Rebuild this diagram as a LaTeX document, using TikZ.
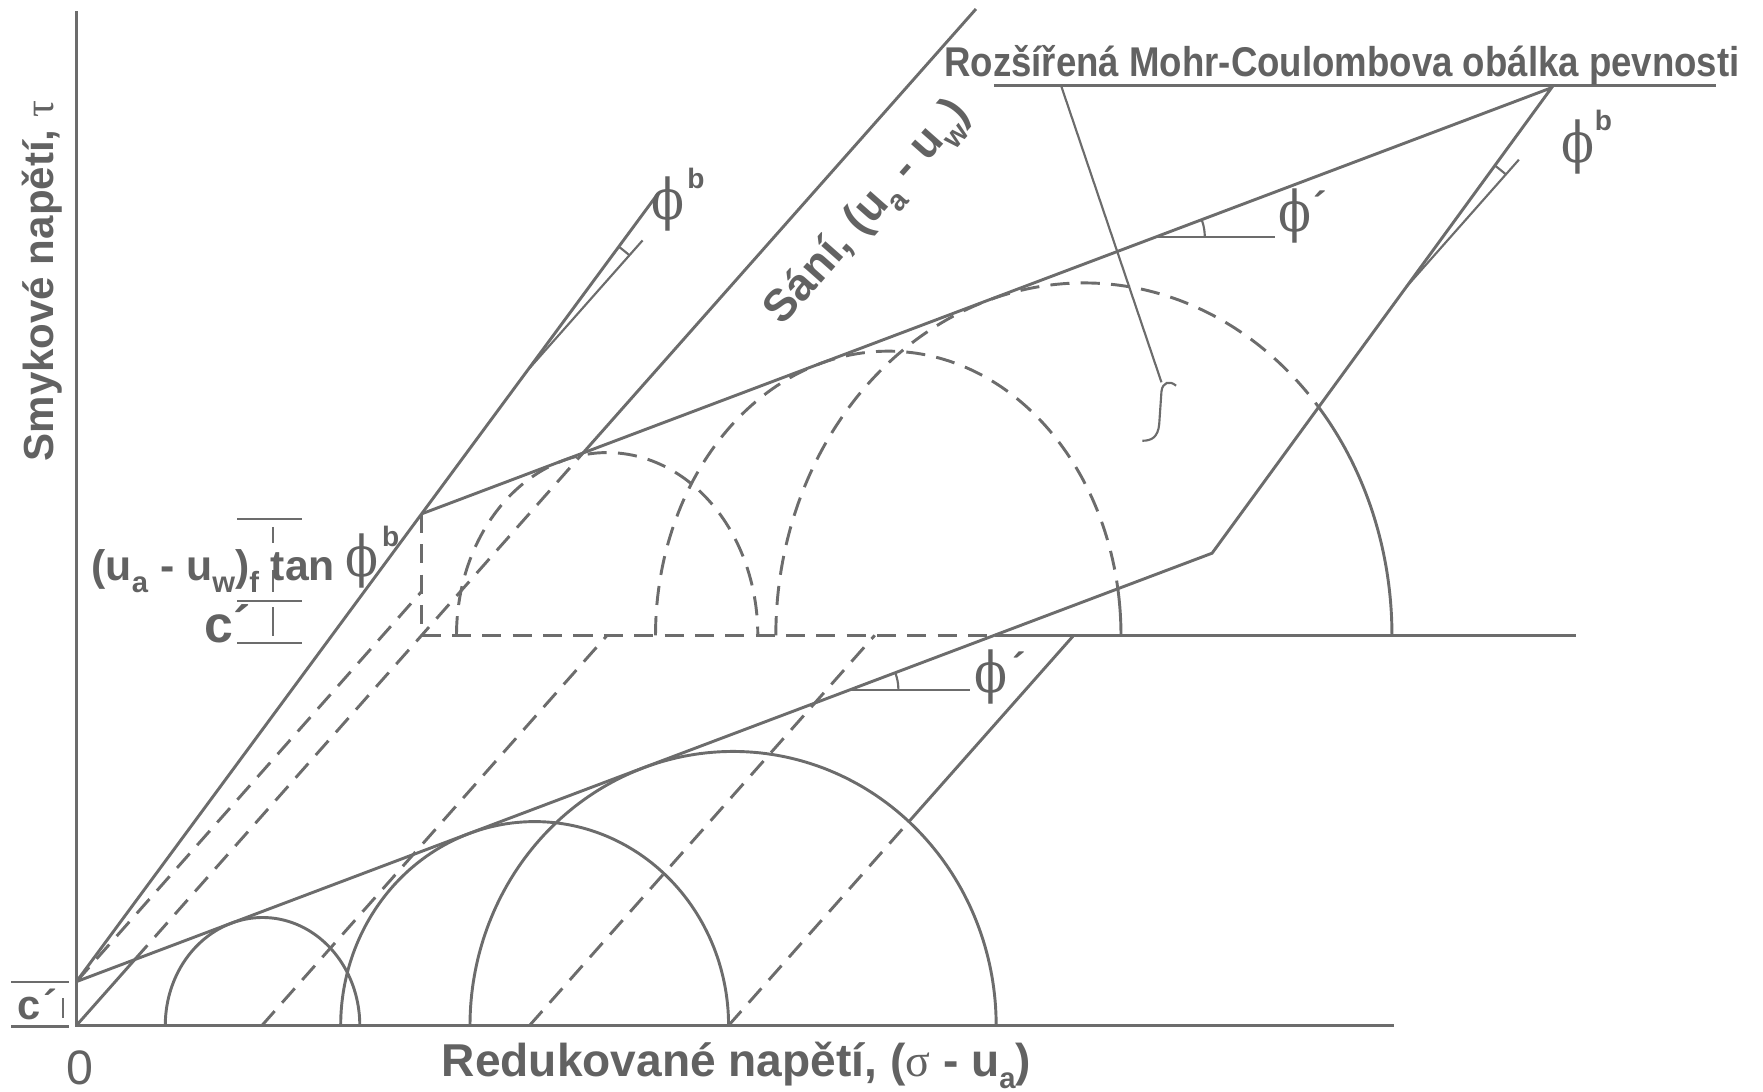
\documentclass[tikz,border=0pt]{standalone}
\usepackage{fontspec}
\setmainfont{Liberation Sans}
\newfontfamily\grk{Liberation Serif}
\newfontfamily\dvr{DejaVu Serif}
\definecolor{ink}{RGB}{98,98,98}
\definecolor{ln}{RGB}{108,108,108}
\newcommand\sbs[1]{\raisebox{-0.28em}{\fontsize{13}{13}\selectfont #1}}
\newcommand\fs[1]{\fontsize{#1}{#1}\selectfont}
\newcommand\phig{{\dvr\scalebox{0.86}[1]{ϕ}}}
\begin{document}
\begin{tikzpicture}[x=0.5pt,y=-0.5pt,
  every node/.style={text=ink, inner sep=0pt, outer sep=0pt},
  solidln/.style={draw=ln, line width=1.3pt},
  dashln/.style={draw=ln, line width=1.3pt, dash pattern=on 8.5pt off 5pt},
  thinln/.style={draw=ln, line width=0.95pt},
  phil/.style={font=\fs{25}},
  supb/.style={font=\bfseries\fs{12.5}},
]
\useasboundingbox (0,0) rectangle (1568,971);

% key points
\coordinate (O) at (68,912);
\coordinate (Ttop) at (68,10);
\coordinate (Send) at (1240,912);
\coordinate (C0) at (68,873);
\coordinate (C1) at (1078,492);
\coordinate (C2) at (1380,78);
\coordinate (C3) at (375,457);
\coordinate (PL) at (585.3,172);
\coordinate (U) at (375,565);
\coordinate (Uc) at (375,526);
\coordinate (Ux) at (884.5,565);
\coordinate (Uend) at (1402,565);
\coordinate (Sa1) at (119.8,853.5);
\coordinate (Sa2) at (518.6,402.8);
\coordinate (Stop) at (868,8);
\coordinate (D1a) at (233,912);  \coordinate (D1b) at (540,565);
\coordinate (D2a) at (471,912);  \coordinate (D2b) at (778,565);
\coordinate (D3a) at (648,912);  \coordinate (D3x) at (808.4,730.7); \coordinate (D3b) at (955,565);
\coordinate (SL) at (471,327.4); \coordinate (SLb) at (571.5,213.8);
\coordinate (SR) at (1250.5,255.5); \coordinate (SRb) at (1350.9,142);
\coordinate (P1) at (756,613.5); \coordinate (P1e) at (863,613.5);
\coordinate (P2) at (1028.5,210.6); \coordinate (P2e) at (1134,210.6);
\coordinate (UlA) at (884,76); \coordinate (UlB) at (1526,76);
\coordinate (LdA) at (944,77); \coordinate (LdB) at (1033,340);

% axes
\draw[solidln] (Ttop) -- (O) -- (Send);
% envelope parallelogram and phi_b lines
\draw[solidln] (C0) -- (C1) -- (C2) -- (C3);
\draw[solidln] (C0) -- (PL);
% suction axis
\draw[solidln] (O) -- (Sa1);
\draw[dashln] (Sa1) -- (Sa2);
\draw[solidln] (Sa2) -- (Stop);
% upper plane
\draw[dashln] (C3) -- (U) -- (Ux);
\draw[solidln] (Ux) -- (Uend);
\draw[dashln] (C0) -- (Uc);
% connecting lines
\draw[dashln] (D1a) -- (D1b);
\draw[dashln] (D2a) -- (D2b);
\draw[dashln] (D3a) -- (D3x);
\draw[solidln] (D3x) -- (D3b);

% bottom Mohr circles (solid)
\draw[solidln] plot[domain=180:360, samples=90, variable=\t] ({233.5+86.5*cos(\t)},{912+96.0*sin(\t)});
\draw[solidln] plot[domain=180:360, samples=120, variable=\t] ({475.5+172.5*cos(\t)},{912+181.3*sin(\t)});
\draw[solidln] plot[domain=180:360, samples=140, variable=\t] ({652+234*cos(\t)},{912+243.7*sin(\t)});
% upper Mohr circles
\draw[dashln] plot[domain=180:360, samples=120, variable=\t] ({540+134*cos(\t)},{565+162.5*sin(\t)});
\draw[dashln] plot[domain=180:350.6, samples=140, variable=\t] ({790+207*cos(\t)},{565+252.7*sin(\t)});
\draw[solidln] plot[domain=350.6:360, samples=12, variable=\t] ({790+207*cos(\t)},{565+252.7*sin(\t)});
\draw[dashln] plot[domain=180:319.65, samples=160, variable=\t] ({964+274*cos(\t)},{565+313.4*sin(\t)});
\draw[solidln] plot[domain=319.65:360, samples=40, variable=\t] ({964+274*cos(\t)},{565+313.4*sin(\t)});

% phi' angle marks
\draw[thinln] (P1) -- (P1e);
\draw[thinln] plot[domain=-20.66:0, samples=12, variable=\t] ({756+43*cos(\t)},{613.5+43*sin(\t)});
\draw[thinln] (P2) -- (P2e);
\draw[thinln] plot[domain=-20.66:0, samples=12, variable=\t] ({1028.5+43*cos(\t)},{210.6+43*sin(\t)});
% phi_b reference lines and arcs
\draw[thinln] (SL) -- (SLb);
\draw[thinln] plot[domain=-53.57:-48.5, samples=8, variable=\t] ({471+134*cos(\t)},{327.4+134*sin(\t)});
\draw[thinln] (SR) -- (SRb);
\draw[thinln] plot[domain=-53.89:-48.5, samples=8, variable=\t] ({1250.5+134*cos(\t)},{255.5+134*sin(\t)});

% title underline, leader and brace
\draw[solidln] (UlA) -- (UlB);
\draw[thinln] (LdA) -- (LdB);
\draw[thinln] (1046,343) .. controls (1040,338) and (1034,340) .. (1033,348) -- (1031,377) .. controls (1030,389) and (1024,392) .. (1016,392);

% dimension brackets
\draw[thinln] (211,461.6) -- (269,461.6);
\draw[thinln] (211,534.2) -- (269,534.2);
\draw[thinln] (211,571.6) -- (269,571.6);
\draw[thinln] (242.5,468.5) -- (242.5,483);
\draw[thinln] (242.5,507) -- (242.5,526.5);
\draw[thinln] (242.5,540) -- (242.5,566);
\draw[thinln] (10,873.5) -- (61,873.5);
\draw[thinln] (10,913) -- (61,913);
\draw[thinln] (56,888) -- (56,905);

% labels
\node[font=\bfseries\fs{20.5}, anchor=base] (xlab) at (655,957) {Redukované napětí, ({\grk\mdseries σ} - u\sbs{a})};
\node[font=\bfseries\fs{18.7}, rotate=90, anchor=base] (ylab) at (47.5,250) {Smykové napětí, {\grk\mdseries τ}};
\node[font=\bfseries\fs{20}, rotate=48.5] (slab) at (773,190) {Sání, (u\sbs{a} - u\sbs{w})};
\node[font=\bfseries\fs{18.5}, anchor=base] (title) at (1193.5,68) {\scalebox{0.88}[1]{Rozšířená Mohr-Coulombova obálka pevnosti}};
\node[font=\fs{21.5}] (zero) at (71,950) {0};
\node[font=\bfseries\fs{19}, anchor=base west] (tanlab) at (81.5,516) {(u\sbs{a} - u\sbs{w})\sbs{f} tan};
\node[phil] (phiT) at (321.5,499) {\phig};
\node[supb] (bT) at (347.5,477) {b};
\node[font=\bfseries\fs{23}, anchor=base west] (cup) at (182,571) {c´};
\node[font=\bfseries\fs{18.5}, anchor=base west] (clo) at (16,907) {c\kern1pt´};
\node[phil] (phiL) at (594,181) {\phig};
\node[supb] (bL) at (619,159) {b};
\node[phil] (phiR) at (1403,131) {\phig};
\node[supb] (bR) at (1426,107) {b};
\node[phil] (phiM) at (881.5,602.5) {\phig};
\node[font=\bfseries\fs{18}, anchor=base] (prM) at (906.5,606) {´};
\node[phil] (phiU) at (1152,192) {\phig};
\node[font=\bfseries\fs{18}, anchor=base] (prU) at (1174,196) {´};
\end{tikzpicture}
\end{document}
